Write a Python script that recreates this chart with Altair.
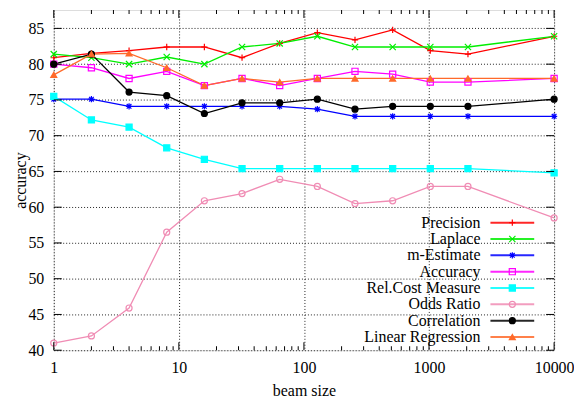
import altair as alt
import pandas as pd

beam = [1, 2, 4, 8, 16, 32, 64, 128, 256, 512, 1024, 2048, 10000]
series_names = ["Precision", "Laplace", "m-Estimate", "Accuracy",
                "Rel.Cost Measure", "Odds Ratio", "Correlation", "Linear Regression"]
precision = [80.9, 81.5, 81.9, 82.4, 82.4, 80.9, 82.9, 84.4, 83.4, 84.8, 81.9, 81.4, 83.9]
laplace = [81.4, 80.9, 80.0, 81.0, 80.0, 82.4, 82.9, 83.9, 82.4, 82.4, 82.4, 82.4, 83.9]
m_estimate = [75.1, 75.1, 74.1, 74.1, 74.1, 74.1, 74.1, 73.7, 72.7, 72.7, 72.7, 72.7, 72.7]
accuracy = [80.0, 79.5, 78.0, 79.0, 77.0, 78.0, 77.0, 78.0, 79.0, 78.6, 77.5, 77.5, 78.0]
rel_cost = [75.5, 72.2, 71.2, 68.3, 66.7, 65.4, 65.4, 65.4, 65.4, 65.4, 65.4, 65.4, 64.8]
odds_ratio = [41.0, 42.0, 45.9, 56.5, 60.9, 61.9, 63.9, 62.9, 60.5, 60.9, 62.9, 62.9, 58.5]
correlation = [80.0, 81.4, 76.1, 75.6, 73.1, 74.6, 74.6, 75.1, 73.7, 74.1, 74.1, 74.1, 75.1]
lin_reg = [78.5, 81.4, 81.5, 79.5, 77.0, 78.0, 77.5, 78.0, 78.0, 78.0, 78.0, 78.0, 78.0]

x_major = [1, 10, 100, 1000, 10000]
x_minor = [m * d for d in [1, 10, 100, 1000] for m in range(2, 10)]
y_ticks = [40, 45, 50, 55, 60, 65, 70, 75, 80, 85]

colors = ["#ff0000", "#00ee00", "#0000ff", "#ff00ff", "#00ffff", "#f08cb4", "#000000", "#ff6a2a"]
fills = ["transparent", "transparent", "transparent", "transparent", "#00ffff",
         "transparent", "#000000", "#ff6a2a"]
shapes = ["M-1,0H1M0,-1V1", "M-1,-1L1,1M-1,1L1,-1",
          "M-1,0H1M0,-1V1M-0.75,-0.75L0.75,0.75M-0.75,0.75L0.75,-0.75",
          "square", "square", "circle", "circle", "triangle-up"]
sizes = [40, 36, 45, 30, 30, 30, 25, 36]

all_vals = [precision, laplace, m_estimate, accuracy, rel_cost, odds_ratio, correlation, lin_reg]
rows = []
for name, vals in zip(series_names, all_vals):
    for b, v in zip(beam, vals):
        rows.append({"series": name, "beam": b, "acc": v})
df = pd.DataFrame(rows)

FONT = "'Liberation Serif', 'Times New Roman', Times, 'DejaVu Serif', serif"
FS = 16
W, H = 503, 342
Y_MAX = 87.57
xscale = alt.Scale(type="log", domain=[1, 10000], nice=False)
yscale = alt.Scale(domain=[40, Y_MAX], nice=False, zero=False)
color_scale = alt.Scale(domain=series_names, range=colors)
fill_scale = alt.Scale(domain=series_names, range=fills)
shape_scale = alt.Scale(domain=series_names, range=shapes)
size_scale = alt.Scale(domain=series_names, range=sizes)

x_axis = alt.Axis(values=x_major, format="d", grid=True, gridDash=[1, 2], gridColor="#222",
                  gridOpacity=1, gridWidth=1, ticks=False, tickSize=0, domain=False,
                  labelPadding=9, labelOverlap=False, labelFlush=False,
                  labelFont=FONT, labelFontSize=FS, labelColor="black",
                  title="beam size", titleFont=FONT, titleFontSize=FS, titleFontWeight="normal",
                  titleColor="black", titleY=41, titleBaseline="middle")
y_axis = alt.Axis(values=y_ticks, grid=True, gridDash=[1, 2], gridColor="#222", gridOpacity=1,
                  gridWidth=1, ticks=False, tickSize=0, domain=False, labelPadding=10,
                  labelOverlap=False, labelFlush=False,
                  labelFont=FONT, labelFontSize=FS, labelColor="black",
                  title="accuracy", titleFont=FONT, titleFontSize=FS, titleFontWeight="normal",
                  titleColor="black", titleX=-33, titleY=H / 2, titleAngle=270,
                  titleBaseline="middle", titleAlign="center")

X = alt.X("beam:Q", scale=xscale, axis=x_axis)
Y = alt.Y("acc:Q", scale=yscale, axis=y_axis)

lines = alt.Chart(df).mark_line(strokeWidth=1.3).encode(
    x=X, y=Y,
    color=alt.Color("series:N", scale=color_scale, legend=None),
)

points = alt.Chart(df).mark_point(opacity=1, strokeWidth=1.2).encode(
    x=X, y=Y,
    shape=alt.Shape("series:N", scale=shape_scale, legend=None),
    stroke=alt.Stroke("series:N", scale=color_scale, legend=None),
    fill=alt.Fill("series:N", scale=fill_scale, legend=None),
    size=alt.Size("series:N", scale=size_scale, legend=None),
)

ydf = pd.DataFrame({"acc": y_ticks})
xmaj = pd.DataFrame({"beam": x_major})
xmin = pd.DataFrame({"beam": x_minor})

yt_left = alt.Chart(ydf).mark_rule(color="black", strokeWidth=1).encode(
    y=Y, x=alt.value(0), x2=alt.value(8))
yt_right = alt.Chart(ydf).mark_rule(color="black", strokeWidth=1).encode(
    y=Y, x=alt.value(W - 8), x2=alt.value(W))
xt_bot = alt.Chart(xmaj).mark_rule(color="black", strokeWidth=1).encode(
    x=X, y=alt.value(H - 8), y2=alt.value(H))
xt_top = alt.Chart(xmaj).mark_rule(color="black", strokeWidth=1).encode(
    x=X, y=alt.value(0), y2=alt.value(8))
xm_bot = alt.Chart(xmin).mark_rule(color="black", strokeWidth=1).encode(
    x=X, y=alt.value(H - 4), y2=alt.value(H))
xm_top = alt.Chart(xmin).mark_rule(color="black", strokeWidth=1).encode(
    x=X, y=alt.value(0), y2=alt.value(4))

# legend rows placed in data units along the shared y scale
LEG_TOP, LEG_STEP = 57.84, 2.285
leg_df = pd.DataFrame({"series": series_names})
leg_df["acc"] = [LEG_TOP - LEG_STEP * i for i in range(len(series_names))]

leg_rule = alt.Chart(leg_df).mark_rule(strokeWidth=2, opacity=0.85).encode(
    y=Y, x=alt.value(439), x2=alt.value(483),
    color=alt.Color("series:N", scale=color_scale, legend=None))
leg_pt = alt.Chart(leg_df).mark_point(opacity=1, strokeWidth=1.2).encode(
    y=Y, x=alt.value(461),
    shape=alt.Shape("series:N", scale=shape_scale, legend=None),
    stroke=alt.Stroke("series:N", scale=color_scale, legend=None),
    fill=alt.Fill("series:N", scale=fill_scale, legend=None),
    size=alt.Size("series:N", scale=size_scale, legend=None))
leg_txt = alt.Chart(leg_df).mark_text(align="right", baseline="middle", font=FONT,
                                      fontSize=FS, color="black").encode(
    y=Y, x=alt.value(429), text="series:N")

chart = alt.layer(lines, points, yt_left, yt_right, xt_bot, xt_top, xm_bot, xm_top,
                  leg_rule, leg_pt, leg_txt).properties(
    width=W, height=H,
    autosize=alt.AutoSizeParams(type="none"),
    padding={"left": 46, "top": 1, "right": 20, "bottom": 48},
).configure_view(stroke="black", strokeWidth=1.5).configure(font=FONT, background="white")

chart.save("out.html", embed_options={"renderer": "svg", "actions": False})
